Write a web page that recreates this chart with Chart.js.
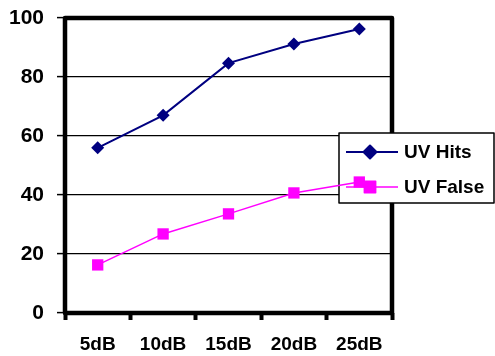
<!DOCTYPE html>
<html>
<head>
<meta charset="utf-8">
<script src="https://cdn.jsdelivr.net/npm/chart.js@4.4.1/dist/chart.umd.min.js"></script>
<style>
  html, body { margin: 0; padding: 0; background: #fff; }
  #wrap { width: 495px; height: 356px; }
</style>
</head>
<body>
<div id="wrap"><canvas id="c" width="495" height="356"></canvas></div>
<script>
// Signal levels along the x axis
const categories = ['5dB', '10dB', '15dB', '20dB', '25dB'];
// Percentages per signal level
const uvHits = [56, 67, 84.7, 91.2, 96.3];
const uvFalse = [16.3, 26.8, 33.6, 40.7, 44.4];
// Y axis range and step
const yTicks = [0, 20, 40, 60, 80, 100];

const NAVY = '#000080';
const MAGENTA = '#FF00FF';
const FONT = '"Liberation Sans", Arial, sans-serif';

// Heavy frame around the plotting area plus the boxed legend; both sit
// beneath the series lines, which run across the legend box.
const framePlugin = {
  id: 'frameAndLegend',
  beforeDatasetsDraw(chart) {
    const { ctx, chartArea: a } = chart;
    ctx.save();
    ctx.strokeStyle = '#000';
    ctx.lineWidth = 4.5;
    ctx.lineJoin = 'round';
    ctx.strokeRect(a.left, a.top, a.right - a.left, a.bottom - a.top);

    // legend box
    const bx = 339, by = 133, bw = 155, bh = 70;
    ctx.fillStyle = '#fff';
    ctx.fillRect(bx, by, bw, bh);
    ctx.lineWidth = 1.5;
    ctx.strokeRect(bx, by, bw, bh);

    const items = [
      { label: 'UV Hits', color: NAVY, style: 'rectRot', radius: 6.5, y: 152 },
      { label: 'UV False', color: MAGENTA, style: 'rect', radius: 8, y: 187 }
    ];
    items.forEach(it => {
      ctx.strokeStyle = it.color;
      ctx.lineWidth = it.color === NAVY ? 2 : 1.5;
      ctx.beginPath();
      ctx.moveTo(346, it.y);
      ctx.lineTo(398, it.y);
      ctx.stroke();
      Chart.helpers.drawPoint(ctx, { pointStyle: it.style, radius: it.radius, borderWidth: 1 }, 370, it.y);
      ctx.fillStyle = it.color;
      ctx.fill();
      ctx.fillStyle = '#000';
      ctx.font = 'bold 19px ' + FONT;
      ctx.textBaseline = 'middle';
      ctx.textAlign = 'left';
      ctx.fillText(it.label, 404, it.y + 1);
    });
    ctx.restore();
  }
};

new Chart(document.getElementById('c'), {
  type: 'line',
  data: {
    labels: categories,
    datasets: [
      {
        label: 'UV Hits',
        data: uvHits,
        borderColor: NAVY,
        backgroundColor: NAVY,
        borderWidth: 2,
        pointStyle: 'rectRot',
        pointRadius: 6.5,
        pointBorderWidth: 0,
        tension: 0
      },
      {
        label: 'UV False',
        data: uvFalse,
        borderColor: MAGENTA,
        backgroundColor: MAGENTA,
        borderWidth: 1.5,
        pointStyle: 'rect',
        pointRadius: 8,
        pointBorderWidth: 0,
        tension: 0
      }
    ]
  },
  options: {
    responsive: false,
    animation: false,
    devicePixelRatio: 1,
    layout: { padding: { top: 18, right: 103, bottom: 0, left: 0 } },
    plugins: { legend: { display: false }, tooltip: { enabled: false } },
    scales: {
      x: {
        offset: true,
        border: { display: false },
        grid: {
          offset: true,
          drawOnChartArea: false,
          drawTicks: true,
          tickLength: 7,
          tickWidth: 4,
          tickColor: '#000'
        },
        ticks: {
          color: '#000',
          padding: 13,
          maxRotation: 0,
          font: { family: FONT, size: 19, weight: 'bold' }
        },
        afterFit(scale) {
          scale.height = 43;
          scale.paddingLeft = 0;
          scale.paddingRight = 0;
        }
      },
      y: {
        min: yTicks[0],
        max: yTicks[yTicks.length - 1],
        border: { display: false },
        grid: {
          color: '#000',
          lineWidth: 1.2,
          drawTicks: true,
          tickLength: 8,
          tickWidth: 1.5,
          tickColor: '#000'
        },
        afterBuildTicks(scale) { scale.ticks = yTicks.map(v => ({ value: v })); },
        ticks: {
          color: '#000',
          padding: 13,
          font: { family: FONT, size: 21, weight: 'bold' }
        },
        afterFit(scale) {
          scale.width = 65;
          scale.paddingTop = 0;
          scale.paddingBottom = 0;
        }
      }
    }
  },
  plugins: [framePlugin]
});
</script>
</body>
</html>
